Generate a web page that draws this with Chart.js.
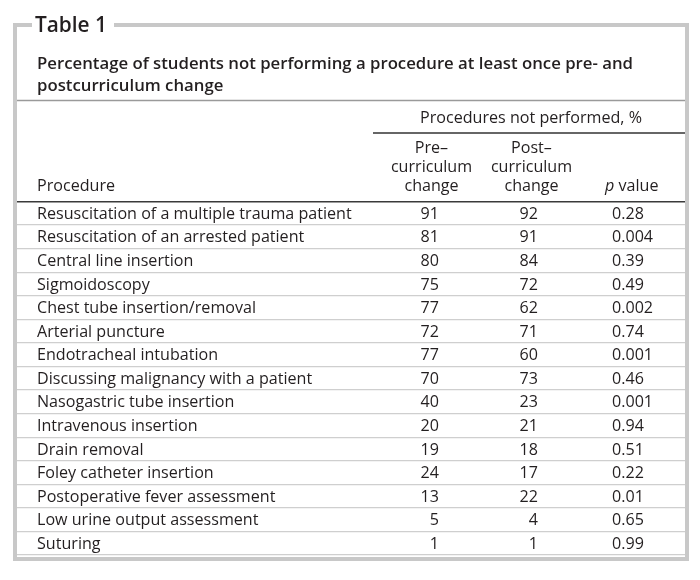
<!DOCTYPE html>
<html>
<head>
<meta charset="utf-8">
<script src="https://cdn.jsdelivr.net/npm/chart.js@4.4.1/dist/chart.umd.min.js"></script>
<style>
  html, body { margin: 0; padding: 0; background: #ffffff; }
  #wrap { width: 700px; height: 580px; position: relative; }
</style>
</head>
<body>
<div id="wrap"><canvas id="c" width="700" height="580"></canvas></div>
<script>
// ---------- data ----------
const tableLabel = 'Table 1';
const titleLines = [
  'Percentage of students not performing a procedure at least once pre- and',
  'postcurriculum change'
];
const groupHeader = 'Procedures not performed, %';
const procedureHeader = 'Procedure';
const preHeader = ['Pre–', 'curriculum', 'change'];
const postHeader = ['Post–', 'curriculum', 'change'];
const pHeaderItalic = 'p';
const pHeaderRest = ' value';

const procedures = [
  'Resuscitation of a multiple trauma patient',
  'Resuscitation of an arrested patient',
  'Central line insertion',
  'Sigmoidoscopy',
  'Chest tube insertion/removal',
  'Arterial puncture',
  'Endotracheal intubation',
  'Discussing malignancy with a patient',
  'Nasogastric tube insertion',
  'Intravenous insertion',
  'Drain removal',
  'Foley catheter insertion',
  'Postoperative fever assessment',
  'Low urine output assessment',
  'Suturing'
];
const preChange  = [91, 81, 80, 75, 77, 72, 77, 70, 40, 20, 19, 24, 13, 5, 1];
const postChange = [92, 91, 84, 72, 62, 71, 60, 73, 23, 21, 18, 17, 22, 4, 1];
const pValues = ['0.28', '0.004', '0.39', '0.49', '0.002', '0.74', '0.001', '0.46',
                 '0.001', '0.94', '0.51', '0.22', '0.01', '0.65', '0.99'];

// ---------- layout / style ----------
const FAMILY = '"Open Sans", "DejaVu Sans", sans-serif';
const TEXT = '#231f20';
const COLS = { proc: 37, preRight: 439, postRight: 538, pLeft: 612, preCenter: 431.5, postCenter: 531.5, groupCenter: 531 };
const FRAME = { left: 15, top: 25, right: 687, bottom: 559, gapStart: 32, gapEnd: 114, color: '#c8c8c8', width: 4 };

const canvas = document.getElementById('c');
const mctx = canvas.getContext('2d');
function fitSize(text, target, weight, style) {
  mctx.font = `${style || 'normal'} ${weight} 100px ${FAMILY}`;
  return 100 * target / mctx.measureText(text).width;
}
const bodySize = fitSize(procedures[0], 315, 400);
const titleSize = fitSize(titleLines[0], 596, 600);
const labelSize = fitSize(tableLabel, 72, 600);
const bodyFont = `normal 400 ${bodySize}px ${FAMILY}`;
const italicFont = `italic 400 ${bodySize}px ${FAMILY}`;
const titleFont = `normal 600 ${titleSize}px ${FAMILY}`;
const labelFont = `normal 600 ${labelSize}px ${FAMILY}`;
const capOffset = bodySize * 0.35;

function line(ctx, x1, y1, x2, y2, color, w) {
  ctx.beginPath(); ctx.strokeStyle = color; ctx.lineWidth = w;
  ctx.moveTo(x1, y1); ctx.lineTo(x2, y2); ctx.stroke();
}
function text(ctx, s, x, y, font, align) {
  ctx.font = font; ctx.textAlign = align || 'left'; ctx.textBaseline = 'alphabetic';
  ctx.fillStyle = TEXT; ctx.fillText(s, x, y);
}

const tablePlugin = {
  id: 'tablePlugin',
  beforeDraw(chart) {
    const ctx = chart.ctx;
    ctx.save();
    ctx.fillStyle = '#ffffff';
    ctx.fillRect(0, 0, chart.width, chart.height);
    // frame with gap for label
    ctx.beginPath();
    ctx.strokeStyle = FRAME.color; ctx.lineWidth = FRAME.width; ctx.lineJoin = 'miter';
    ctx.moveTo(FRAME.gapStart, FRAME.top);
    ctx.lineTo(FRAME.left, FRAME.top);
    ctx.lineTo(FRAME.left, FRAME.bottom);
    ctx.lineTo(FRAME.right, FRAME.bottom);
    ctx.lineTo(FRAME.right, FRAME.top);
    ctx.lineTo(FRAME.gapEnd, FRAME.top);
    ctx.stroke();
    // rule under title, rule under group header
    line(ctx, 17, 100.5, 685, 100.5, '#9a9a9a', 1.5);
    line(ctx, 373, 133, 685, 133, '#333333', 1.3);
    ctx.restore();
  },
  afterDraw(chart) {
    const ctx = chart.ctx;
    ctx.save();
    text(ctx, tableLabel, 35, 31.5, labelFont);
    text(ctx, titleLines[0], 37, 69, titleFont);
    text(ctx, titleLines[1], 37, 91, titleFont);
    text(ctx, groupHeader, COLS.groupCenter, 122.5, bodyFont, 'center');
    const hb = [153, 172, 191];
    preHeader.forEach((s, i) => text(ctx, s, COLS.preCenter, hb[i], bodyFont, 'center'));
    postHeader.forEach((s, i) => text(ctx, s, COLS.postCenter, hb[i], bodyFont, 'center'));
    text(ctx, procedureHeader, COLS.proc, 191, bodyFont);
    ctx.font = italicFont;
    const pw = ctx.measureText(pHeaderItalic).width;
    text(ctx, pHeaderItalic, 605, 191, italicFont);
    text(ctx, pHeaderRest, 605 + pw, 191, bodyFont);
    // procedure names via y scale
    const xs = chart.scales.x, ys = chart.scales.y;
    procedures.forEach((p, i) => {
      text(ctx, p, xs.getPixelForValue(COLS.proc), ys.getPixelForValue(i) + capOffset, bodyFont);
    });
    // cell values from dataset elements
    chart.data.datasets.forEach((ds, di) => {
      const meta = chart.getDatasetMeta(di);
      meta.data.forEach((pt, j) => {
        text(ctx, String(ds.cellValues[j]), pt.x, pt.y + capOffset, bodyFont, ds.cellAlign);
      });
    });
    ctx.restore();
  }
};

new Chart(canvas, {
  type: 'scatter',
  data: {
    datasets: [
      { label: 'Pre-curriculum change', data: preChange.map((v, i) => ({ x: COLS.preRight, y: procedures[i] })), cellValues: preChange, cellAlign: 'right', pointRadius: 0, pointHoverRadius: 0 },
      { label: 'Post-curriculum change', data: postChange.map((v, i) => ({ x: COLS.postRight, y: procedures[i] })), cellValues: postChange, cellAlign: 'right', pointRadius: 0, pointHoverRadius: 0 },
      { label: 'p value', data: pValues.map((v, i) => ({ x: COLS.pLeft, y: procedures[i] })), cellValues: pValues, cellAlign: 'left', pointRadius: 0, pointHoverRadius: 0 }
    ]
  },
  options: {
    responsive: false,
    animation: false,
    devicePixelRatio: 1,
    layout: { padding: { left: 17, right: 15, top: 201.5, bottom: 25 } },
    plugins: { legend: { display: false }, tooltip: { enabled: false } },
    events: [],
    scales: {
      x: { type: 'linear', display: false, min: 17, max: 685 },
      y: {
        type: 'category', labels: procedures, offset: true,
        grid: {
          offset: true, drawTicks: false,
          color: (c) => c.index === 0 ? '#3a3a3a' : (c.index === procedures.length ? 'rgba(0,0,0,0)' : '#cfcfcf'),
          lineWidth: (c) => c.index === 0 ? 1.6 : 1.3
        },
        border: { display: false },
        ticks: { display: false },
        afterFit(s) { s.width = 0; }
      }
    }
  },
  plugins: [tablePlugin]
});
</script>
</body>
</html>
